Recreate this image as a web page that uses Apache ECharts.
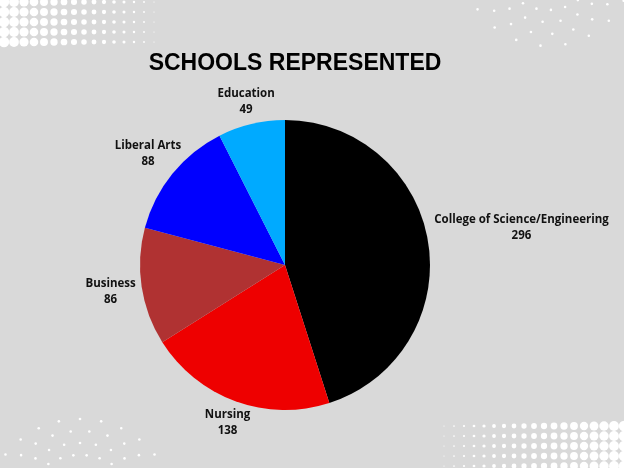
<!DOCTYPE html>
<html>
<head>
<meta charset="utf-8">
<script src="https://cdn.jsdelivr.net/npm/echarts@6/dist/echarts.min.js"></script>
<style>
  html, body { margin: 0; padding: 0; background: #d9d9d9; }
  #chart { width: 624px; height: 468px; }
</style>
</head>
<body>
<div id="chart"></div>
<script>
const schools = ['College of Science/Engineering', 'Nursing', 'Business', 'Liberal Arts', 'Education'];
const counts = [296, 138, 86, 88, 49];
const colors = ['#000000', '#ee0000', '#b03232', '#0000ff', '#00aaff'];

const CX = 285, CY = 265, R = 145;
const total = counts.reduce((a, b) => a + b, 0);

// direction of each slice middle, clockwise from 12 o'clock
function sliceDir(i) {
  let before = 0;
  for (let k = 0; k < i; k++) before += counts[k];
  const a = (before + counts[i] / 2) / total * Math.PI * 2;
  return [Math.sin(a), -Math.cos(a)];
}

// halftone decoration in the corners
function halftone(x0, y0, cols, rows, step, grow) {
  const out = [];
  for (let c = 0; c < cols; c++) {
    for (let r = 0; r < rows; r++) {
      const t = grow > 0 ? c / (cols - 1) : 1 - c / (cols - 1);
      out.push({
        type: 'circle', silent: true,
        shape: { cx: x0 + c * step, cy: y0 + r * step, r: 0.6 + t * 4.6 },
        style: { fill: '#ffffff' }
      });
    }
  }
  return out;
}
function arcDots(cx, cy, radii, from, to, n) {
  const out = [];
  radii.forEach((rr, j) => {
    for (let k = 0; k < n; k++) {
      const a = (from + (to - from) * (k + (j % 2) * 0.5) / n) * Math.PI / 180;
      out.push({
        type: 'circle', silent: true,
        shape: { cx: cx + rr * Math.cos(a), cy: cy + rr * Math.sin(a), r: 1.3 },
        style: { fill: '#ffffff' }
      });
    }
  });
  return out;
}

const deco = [].concat(
  halftone(4, 2, 16, 5, 10, -1),
  halftone(444, 426, 19, 5, 10, 1),
  arcDots(548, -40, [50, 62, 74, 86], 20, 170, 9),
  arcDots(80, 515, [60, 72, 84, 96], 200, 340, 11)
);

const chart = echarts.init(document.getElementById('chart'));

chart.setOption({
  backgroundColor: '#d9d9d9',
  animation: false,
  title: {
    text: 'SCHOOLS REPRESENTED',
    left: 290,
    top: 47,
    textAlign: 'center',
    textStyle: {
      fontFamily: 'Liberation Sans',
      fontWeight: 'bold',
      fontSize: 23,
      color: '#000'
    }
  },
  graphic: deco,
  series: [
    {
      type: 'pie',
      center: [CX, CY],
      radius: R,
      startAngle: 90,
      clockwise: true,
      emphasis: { disabled: true },
      data: schools.map((s, i) => ({
        name: s,
        value: counts[i],
        itemStyle: { color: colors[i] }
      })),
      label: {
        show: true,
        position: 'outside',
        formatter: '{b}\n{c}',
        overflow: 'none',
        fontFamily: 'Open Sans',
        fontWeight: 'bold',
        fontSize: 11.5,
        lineHeight: 16,
        color: '#111'
      },
      labelLine: { show: false },
      labelLayout: function (p) {
        const d = sliceDir(p.dataIndex);
        const w = p.labelRect.width, h = p.labelRect.height;
        const t = Math.min(
          Math.abs(d[0]) > 1e-6 ? w / 2 / Math.abs(d[0]) : 1e9,
          Math.abs(d[1]) > 1e-6 ? h / 2 / Math.abs(d[1]) : 1e9
        ) + 6;
        return {
          x: CX + d[0] * (R + t),
          y: CY + d[1] * (R + t),
          align: 'center',
          verticalAlign: 'middle'
        };
      }
    }
  ]
});
</script>
</body>
</html>
